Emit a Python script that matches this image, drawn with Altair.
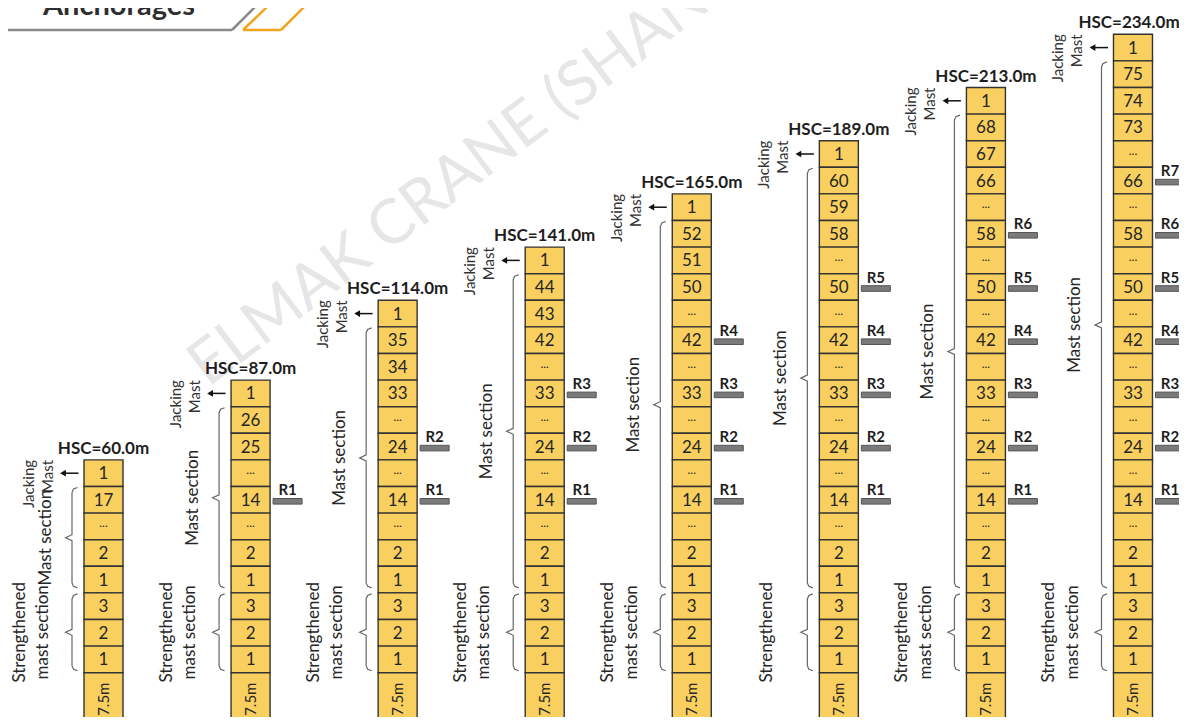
import altair as alt
import pandas as pd

# ---------------- data ----------------
hsc_heights = [60.0, 87.0, 114.0, 141.0, 165.0, 189.0, 213.0, 234.0]
jacking_label = "1"
mast_labels = [
    ["17", "...", "2", "1"],
    ["26", "25", "...", "14", "...", "2", "1"],
    ["35", "34", "33", "...", "24", "...", "14", "...", "2", "1"],
    ["44", "43", "42", "...", "33", "...", "24", "...", "14", "...", "2", "1"],
    ["52", "51", "50", "...", "42", "...", "33", "...", "24", "...", "14", "...", "2", "1"],
    ["60", "59", "58", "...", "50", "...", "42", "...", "33", "...", "24", "...", "14", "...", "2", "1"],
    ["68", "67", "66", "...", "58", "...", "50", "...", "42", "...", "33", "...", "24", "...", "14", "...", "2", "1"],
    ["75", "74", "73", "...", "66", "...", "58", "...", "50", "...", "42", "...", "33", "...", "24", "...", "14", "...", "2", "1"],
]
strengthened_labels = ["3", "2", "1"]
base_label = "7.5m"
anchor_names = ["R1", "R2", "R3", "R4", "R5", "R6", "R7"]
anchor_sections = ["14", "24", "33", "42", "50", "58", "66"]
strengthened_text = [
    ["Strengthened", "mast section"], ["Strengthened", "mast section"],
    ["Strengthened", "mast section"], ["Strengthened", "mast section"],
    ["Strengthened", "mast section"], ["Strengthened"],
    ["Strengthened", "mast section"], ["Strengthened", "mast section"],
]
header_title = "Anchorages"
watermark = "ELMAK CRANE (SHANGHAI) CO., LTD."

# ---------------- layout constants (page pixels) ----------------
CELL_H = 26.6
CELL_W = 39.0
COL0_X = 103.5
COL_DX = 147.07
BASE_Y = 672.7
STR_LH = 23.5
JACK_LH = 19
VIEW_RIGHT = 1179
TITLE_HALF = 50

FONT = "Lato"
CELL_FILL = "#F9CF5F"
CELL_STROKE = "#333333"


def col_x(i):
    return COL0_X + i * COL_DX


cells, cell_txt, dots_txt, titles, jack, arrows, heads = [], [], [], [], [], [], []
brace_pts, mast_txt, str_txt, bars, r_txt, base_txt = [], [], [], [], [], []

for i, h in enumerate(hsc_heights):
    cx = col_x(i)
    seq = [jacking_label] + mast_labels[i] + strengthened_labels
    n = len(seq)
    top = BASE_Y - n * CELL_H
    seen_dots = False
    for k, lab in enumerate(seq):
        y0 = top + k * CELL_H
        cells.append(dict(x=cx - CELL_W / 2, x2=cx + CELL_W / 2, y=y0, y2=y0 + CELL_H))
        if lab == "...":
            seen_dots = True
            dots_txt.append(dict(x=cx, y=y0 + CELL_H / 2 - 3, t="..."))
        else:
            cell_txt.append(dict(x=cx, y=y0 + CELL_H / 2 + 1, t=lab))
        if seen_dots and lab in anchor_sections and k < n - 3:
            r = anchor_names[anchor_sections.index(lab)]
            yc = y0 + CELL_H / 2 + 1.5
            rx = cx + CELL_W / 2
            bars.append(dict(x=rx + 3, x2=rx + 32, y=yc - 2.8, y2=yc + 2.8))
            r_txt.append(dict(x=rx + 17.5, y=yc - 6, t=r))
    # foundation cell
    cells.append(dict(x=cx - CELL_W / 2, x2=cx + CELL_W / 2, y=BASE_Y, y2=BASE_Y + 2 * CELL_H))
    base_txt.append(dict(x=cx, y=BASE_Y + 26.5, t=base_label))
    # title (kept inside the view)
    titles.append(dict(x=min(cx, VIEW_RIGHT - TITLE_HALF), y=top - 6, t=f"HSC={h:.1f}m"))
    # jacking mast label + arrow
    jack.append(dict(x=cx - 75, y=top, t=["Jacking", "Mast"]))
    ay = top + CELL_H / 2
    arrows.append(dict(x=cx - 41, x2=cx - 25, y=ay, y2=ay))
    heads.append(dict(x=cx - 40.5, y=ay))
    # braces
    m_top = top + CELL_H
    m_bot = BASE_Y - 3 * CELL_H
    s_top = m_bot
    s_bot = BASE_Y
    for b, (yt, yb) in enumerate([(m_top + 1, m_bot - 5), (s_top + 1, s_bot - 2)]):
        mid = (yt + yb) / 2
        pts = [(-26, yt), (-30, yt + 1.5), (-31.5, yt + 5), (-31.5, mid - 3), (-38, mid),
               (-31.5, mid + 3), (-31.5, yb - 5), (-30, yb - 1.5), (-26, yb)]
        for o, (dx, yy) in enumerate(pts):
            brace_pts.append(dict(x=cx + dx, y=yy, id=f"{i}-{b}", o=o))
        if b == 0:
            mast_txt.append(dict(x=cx - 58, y=mid, t="Mast section"))
        else:
            lines = strengthened_text[i]
            str_txt.append(dict(x=cx - 72 - (len(lines) - 1) * STR_LH / 2, y=mid, t=lines))

header_lines = [
    dict(x=0, x2=232, y=30, y2=30, c="grey"),
    dict(x=232, x2=256, y=30, y2=6, c="grey"),
    dict(x=243, x2=281, y=30, y2=30, c="orange"),
    dict(x=243, x2=268, y=30, y2=6, c="orange"),
    dict(x=281, x2=305, y=30, y2=6, c="orange"),
]

xs = alt.Scale(domain=[8, 1179], nice=False, zero=False)
ys = alt.Scale(domain=[8, 717], reverse=True, nice=False, zero=False)


def X(f="x"):
    return alt.X(f"{f}:Q", scale=xs, axis=None)


def Y(f="y"):
    return alt.Y(f"{f}:Q", scale=ys, axis=None)


def df(rows):
    return alt.Data(values=rows)


wm = alt.Chart(df([dict(x=208, y=388, t=watermark)])).mark_text(
    font=FONT, fontSize=62, color="#E6E6E6", angle=323, align="left",
    baseline="alphabetic", clip=True).encode(x=X(), y=Y(), text="t:N")

header = alt.Chart(df(header_lines)).mark_rule(strokeWidth=2.5, clip=True).encode(
    x=X(), x2="x2:Q", y=Y(), y2="y2:Q",
    color=alt.Color("c:N", scale=alt.Scale(domain=["grey", "orange"], range=["#8A8A8A", "#F2A521"]), legend=None))
header_text = alt.Chart(df([dict(x=43, y=15, t=header_title)])).mark_text(
    font=FONT, fontSize=29, fontWeight="bold", color="#2E2E2E", align="left", baseline="alphabetic", clip=True
).encode(x=X(), y=Y(), text="t:N")

cell_layer = alt.Chart(df(cells)).mark_rect(
    fill=CELL_FILL, stroke=CELL_STROKE, strokeWidth=1.4, clip=True).encode(x=X(), x2="x2:Q", y=Y(), y2="y2:Q")
cell_text = alt.Chart(df(cell_txt)).mark_text(
    font=FONT, fontSize=17, color="#262626", baseline="middle").encode(x=X(), y=Y(), text="t:N")
dots_text = alt.Chart(df(dots_txt)).mark_text(
    font=FONT, fontSize=12, color="#262626", baseline="middle").encode(x=X(), y=Y(), text="t:N")
base_text = alt.Chart(df(base_txt)).mark_text(
    font=FONT, fontSize=15, color="#262626", baseline="middle", angle=270, clip=True).encode(x=X(), y=Y(), text="t:N")
title_text = alt.Chart(df(titles)).mark_text(
    font=FONT, fontSize=17, fontWeight="bold", color="#1E1E1E", baseline="alphabetic").encode(
    x=X(), y=Y(), text="t:N")
jack_text = alt.Chart(df(jack)).mark_text(
    font=FONT, fontSize=15, color="#333333", baseline="middle", align="right", angle=270,
    lineHeight=JACK_LH).encode(x=X(), y=Y(), text="t:N")
arrow_rule = alt.Chart(df(arrows)).mark_rule(color="#111111", strokeWidth=1.5).encode(
    x=X(), x2="x2:Q", y=Y(), y2="y2:Q")
arrow_head = alt.Chart(df(heads)).mark_point(
    shape="triangle-left", filled=True, color="#111111", size=45, opacity=1).encode(x=X(), y=Y())
braces = alt.Chart(df(brace_pts)).mark_line(color="#666666", strokeWidth=1.2).encode(
    x=X(), y=Y(), detail="id:N", order="o:Q")
mast_text = alt.Chart(df(mast_txt)).mark_text(
    font=FONT, fontSize=17, color="#262626", baseline="middle", angle=270).encode(x=X(), y=Y(), text="t:N")
str_text = alt.Chart(df(str_txt)).mark_text(
    font=FONT, fontSize=17, color="#262626", baseline="middle", angle=270, lineHeight=STR_LH).encode(
    x=X(), y=Y(), text="t:N")
bar_layer = alt.Chart(df(bars)).mark_rect(
    fill="#7A7A7A", stroke="#555555", strokeWidth=1, clip=True).encode(x=X(), x2="x2:Q", y=Y(), y2="y2:Q")
r_text = alt.Chart(df(r_txt)).mark_text(
    font=FONT, fontSize=15, fontWeight="bold", color="#1E1E1E", baseline="alphabetic").encode(
    x=X(), y=Y(), text="t:N")

chart = alt.layer(
    wm, header, header_text, braces, cell_layer, cell_text, dots_text, base_text, title_text,
    jack_text, arrow_rule, arrow_head, mast_text, str_text, bar_layer, r_text
).properties(
    width=1171, height=709, padding=0,
    autosize=alt.AutoSizeParams(type="none"),
    background="white"
).configure_view(stroke=None)

chart.save("out.html", embed_options={"renderer": "svg", "actions": False})
